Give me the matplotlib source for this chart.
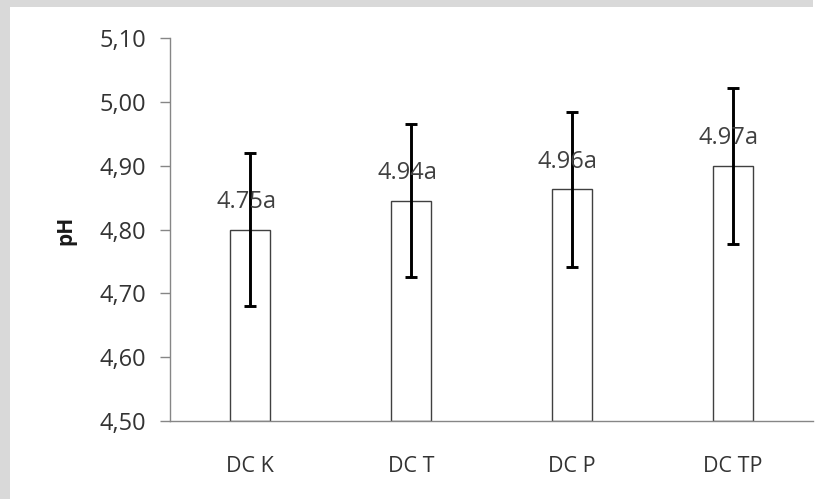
import matplotlib
matplotlib.use("Agg")
import matplotlib.pyplot as plt
from matplotlib.patches import Rectangle
import numpy as np

categories = ["DC K", "DC T", "DC P", "DC TP"]
means = [4.80, 4.845, 4.863, 4.90]
errors = [0.12, 0.12, 0.122, 0.122]
labels = ["4.75a", "4.94a", "4.96a", "4.97a"]
yticks = [4.50, 4.60, 4.70, 4.80, 4.90, 5.00, 5.10]
ytick_labels = ["4,50", "4,60", "4,70", "4,80", "4,90", "5,00", "5,10"]

FONT = "Open Sans"
W, H = 822, 499
fig = plt.figure(figsize=(W / 100, H / 100), dpi=100)
fig.patch.set_facecolor("white")

# grey page border (top band and left strip)
gray = "#d9d9d9"
fig.patches.append(Rectangle((0, 1 - 7 / H), 813 / W, 7 / H, transform=fig.transFigure,
                             facecolor=gray, edgecolor="none", zorder=0))
fig.patches.append(Rectangle((0, 0), 10 / W, 1, transform=fig.transFigure,
                             facecolor=gray, edgecolor="none", zorder=0))

left, right = 170 / W, 813 / W
bottom, top = 1 - 421 / H, 1 - 38.3 / H
ax = fig.add_axes([left, bottom, right - left, top - bottom])
ax.set_facecolor("none")

x = np.arange(len(categories))
ax.bar(x, [m - 4.5 for m in means], bottom=4.5, width=0.25, color="white",
       edgecolor="#404040", linewidth=1.0, zorder=2)
ax.errorbar(x, means, yerr=errors, fmt="none", ecolor="black", elinewidth=2.1,
            capsize=4.5, capthick=2.1, zorder=3)

for xi, m, lab in zip(x, means, labels):
    ax.annotate(lab, (xi, m), xytext=(-3, 20), textcoords="offset points",
                ha="center", va="center", fontsize=17, color="#404040", family=FONT, zorder=4)

ax.set_xlim(-0.5, len(categories) - 0.5)
ax.set_ylim(4.5, 5.1)
ax.set_yticks(yticks)
ax.set_yticklabels(ytick_labels, family=FONT, fontsize=17, color="#333333")
ax.set_xticks(x)
ax.set_xticklabels(categories, family=FONT, fontsize=15.5, color="#333333")
ax.tick_params(axis="y", length=7, width=1, color="#868686", pad=10)
ax.tick_params(axis="x", length=0, pad=25)

for s in ["top", "right"]:
    ax.spines[s].set_visible(False)
for s in ["left", "bottom"]:
    ax.spines[s].set_color("#868686")
    ax.spines[s].set_linewidth(1.0)

fig.text(66 / W, 1 - 230 / H, "pH", rotation=90, ha="center", va="center",
         fontsize=15, fontweight="bold", family=FONT, color="#1a1a1a")

fig.savefig("out.png", dpi=100)
